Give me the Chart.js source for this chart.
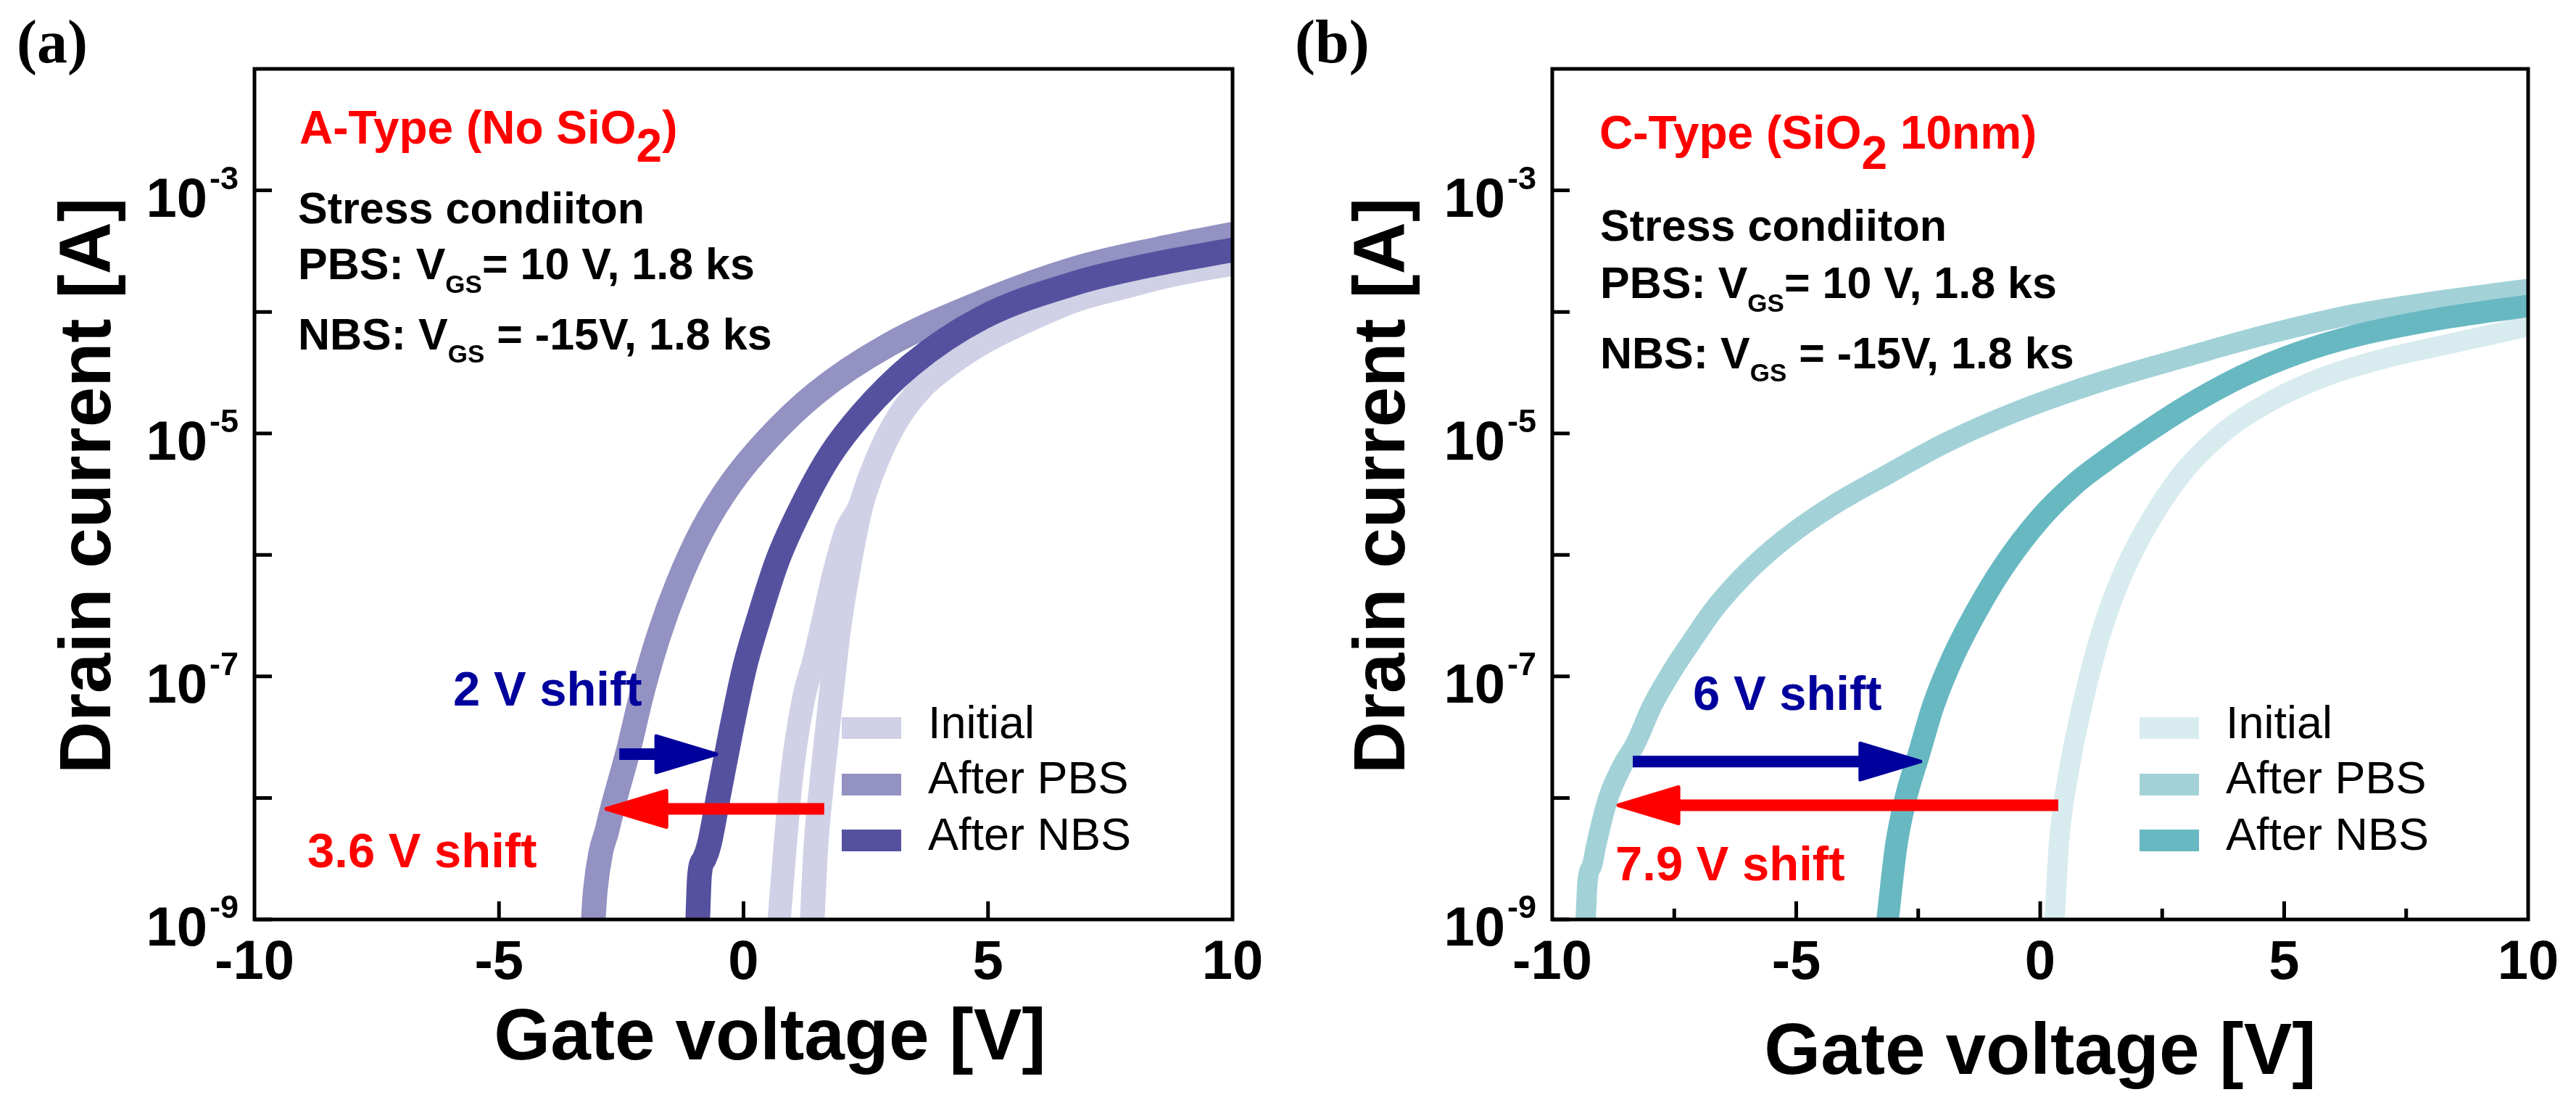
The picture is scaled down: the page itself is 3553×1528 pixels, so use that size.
<!DOCTYPE html>
<html lang="en">
<head>
<meta charset="UTF-8" />
<title>Transfer curves under bias stress</title>
<script src="https://cdn.jsdelivr.net/npm/chart.js"></script>
<style>
  html, body { margin: 0; padding: 0; background: #fff; overflow: hidden; }
  body { width: 3553px; height: 1528px; position: relative; }
  canvas { position: absolute; top: 0; }
  #chartA { left: 0; }
  #chartB { left: 1776px; }
</style>
</head>
<body>
<canvas id="chartA" width="1776" height="1528"></canvas>
<canvas id="chartB" width="1777" height="1528"></canvas>
<script>
// axis ticks
const xTicks = [-10, -5, 0, 5, 10];
const xMinorTicks = [-7.5, -2.5, 2.5, 7.5];
const yTickExp = [-3, -4, -5, -6, -7, -8, -9];
const yLabelExp = [-3, -5, -7, -9];
const legendLabels = ["Initial", "After PBS", "After NBS"];

// gate voltage [V] / log10 of drain current [A]
// (a) A-Type (No SiO2)
const aInitV   = [1.40, 1.48, 1.62, 1.78, 1.95, 2.15, 2.40, 2.75, 3.15, 3.65, 4.25, 4.90, 5.80, 6.80, 7.80, 8.80, 10.0];
const aInitLog = [-9.05, -8.40, -7.80, -7.20, -6.60, -6.10, -5.60, -5.20, -4.88, -4.62, -4.42, -4.25, -4.07, -3.90, -3.79, -3.69, -3.60];
const aInitSweepV   = [0.72, 0.85, 0.99, 1.22, 1.45, 1.65, 1.85, 2.10, 2.35, 2.55];
const aInitSweepLog = [-9.05, -8.40, -7.80, -7.20, -6.85, -6.50, -6.15, -5.80, -5.62, -5.42];
const aPbsV   = [-3.08, -3.03, -2.92, -2.80, -2.69, -2.35, -2.07, -1.73, -1.34, -0.85, -0.27, 0.51, 1.48, 2.93, 4.87, 6.81, 8.50, 10.0];
const aPbsLog = [-9.05, -8.76, -8.45, -8.28, -8.10, -7.60, -7.13, -6.66, -6.23, -5.80, -5.42, -5.04, -4.67, -4.28, -3.92, -3.64, -3.48, -3.36];
const aNbsV   = [-0.94, -0.90, -0.80, -0.70, -0.51, -0.27, 0.02, 0.32, 0.70, 1.18, 1.77, 2.44, 3.42, 4.87, 6.81, 8.50, 10.0];
const aNbsLog = [-9.05, -8.64, -8.50, -8.38, -7.98, -7.48, -6.93, -6.51, -6.04, -5.61, -5.18, -4.83, -4.44, -4.05, -3.76, -3.60, -3.49];

// (b) C-Type (SiO2 10nm)
const bInitV   = [0.29, 0.38, 0.57, 0.86, 1.14, 1.45, 1.85, 2.42, 2.99, 3.85, 4.70, 5.85, 6.99, 8.42, 10.0];
const bInitLog = [-9.05, -8.39, -7.82, -7.24, -6.79, -6.40, -6.02, -5.61, -5.29, -4.96, -4.74, -4.53, -4.39, -4.26, -4.12];
const bPbsV   = [-9.32, -9.28, -9.18, -9.10, -8.86, -8.57, -8.29, -7.95, -7.52, -7.14, -6.67, -6.00, -5.24, -4.28, -3.14, -1.90, -0.48, 1.28, 2.99, 4.70, 6.42, 8.13, 10.0];
const bPbsLog = [-9.05, -8.70, -8.55, -8.39, -8.01, -7.74, -7.55, -7.24, -6.94, -6.71, -6.44, -6.14, -5.87, -5.60, -5.34, -5.07, -4.82, -4.57, -4.37, -4.18, -4.02, -3.91, -3.81];
const bNbsV   = [-3.14, -2.95, -2.76, -2.48, -2.19, -1.81, -1.33, -0.76, 0.00, 0.70, 1.28, 2.14, 2.99, 4.13, 5.27, 6.42, 8.13, 10.0];
const bNbsLog = [-9.05, -8.39, -8.01, -7.63, -7.24, -6.86, -6.48, -6.10, -5.70, -5.42, -5.24, -5.00, -4.78, -4.53, -4.34, -4.20, -4.06, -3.95];

// shift arrows: [fromV, toV, log10 I]
const aArrows = { blue: [-2.54, -0.51, -7.64], red: [1.65, -2.85, -8.09] };
const bArrows = { blue: [-8.35, -2.41, -7.70], red: [0.37, -8.69, -8.06] };

const FONT = "'Liberation Sans', Arial, sans-serif";
const BLUE = "#00009c";
const RED = "#ff0000";

function pts(vs, logs) {
  return vs.map((v, i) => ({ x: v, y: Math.pow(10, logs[i]) }));
}

function curve(data, color, width, order) {
  return {
    data: data,
    borderColor: color,
    backgroundColor: color,
    borderWidth: width,
    pointRadius: 0,
    fill: false,
    cubicInterpolationMode: "monotone",
    borderCapStyle: "round",
    borderJoinStyle: "round",
    clip: 0,
    order: order,
  };
}

function runs(ctx, x, y, parts, color) {
  ctx.fillStyle = color;
  ctx.textAlign = "left";
  ctx.textBaseline = "alphabetic";
  parts.forEach((p) => {
    ctx.font = p.f;
    ctx.fillText(p.t, x, y + (p.dy || 0));
    x += ctx.measureText(p.t).width;
  });
}

function arrow(ctx, x1, x2, y, color) {
  const dir = x2 > x1 ? 1 : -1;
  const headLen = 86, half = 25;
  const base = x2 - dir * headLen;
  ctx.strokeStyle = color;
  ctx.fillStyle = color;
  ctx.lineCap = "butt";
  ctx.lineWidth = 16;
  ctx.beginPath();
  ctx.moveTo(x1, y);
  ctx.lineTo(base + dir * 4, y);
  ctx.stroke();
  ctx.lineJoin = "round";
  ctx.lineWidth = 5;
  ctx.beginPath();
  ctx.moveTo(x2 - dir * 3, y);
  ctx.lineTo(base, y - half);
  ctx.lineTo(base, y + half);
  ctx.closePath();
  ctx.fill();
  ctx.stroke();
}

const overlay = {
  id: "overlay",
  afterDraw(chart, args, o) {
    const ctx = chart.ctx;
    const xs = chart.scales.x, ys = chart.scales.y, ca = chart.chartArea;
    const off = o.offset;
    ctx.save();

    // frame and inward ticks
    ctx.strokeStyle = "#000";
    ctx.lineWidth = 5;
    ctx.lineCap = "butt";
    ctx.strokeRect(ca.left, ca.top, ca.right - ca.left, ca.bottom - ca.top);
    ctx.beginPath();
    yTickExp.forEach((e) => {
      const y = ys.getPixelForValue(Math.pow(10, e));
      ctx.moveTo(ca.left, y);
      ctx.lineTo(ca.left + 24, y);
    });
    xTicks.slice(1, -1).forEach((v) => {
      const x = xs.getPixelForValue(v);
      ctx.moveTo(x, ca.bottom);
      ctx.lineTo(x, ca.bottom - 25);
    });
    if (o.minor) {
      xMinorTicks.forEach((v) => {
        const x = xs.getPixelForValue(v);
        ctx.moveTo(x, ca.bottom);
        ctx.lineTo(x, ca.bottom - 15);
      });
    }
    ctx.stroke();

    // tick labels
    ctx.fillStyle = "#000";
    ctx.textBaseline = "alphabetic";
    yLabelExp.forEach((e) => {
      const y = ys.getPixelForValue(Math.pow(10, e));
      ctx.textAlign = "right";
      ctx.font = "bold 45px " + FONT;
      const sup = String(e);
      const sw = ctx.measureText(sup).width;
      ctx.fillText(sup, ca.left - 22, y - 2);
      ctx.font = "bold 76px " + FONT;
      ctx.fillText("10", ca.left - 25 - sw, y + 36);
    });
    ctx.textAlign = "center";
    ctx.font = "bold 76px " + FONT;
    xTicks.forEach((v) => {
      ctx.fillText(String(v), xs.getPixelForValue(v), 1350);
    });

    // axis titles
    ctx.font = "bold 100px " + FONT;
    ctx.fillText("Gate voltage [V]", o.xTitle[0] - off, o.xTitle[1]);
    ctx.save();
    ctx.translate(o.yTitle[0] - off, o.yTitle[1]);
    ctx.rotate(-Math.PI / 2);
    ctx.fillText("Drain current [A]", 0, 0);
    ctx.restore();

    // panel letter
    ctx.textAlign = "left";
    ctx.font = "bold 84px 'Liberation Serif', 'Times New Roman', serif";
    ctx.fillText(o.letter, o.letterPos[0] - off, 86);

    // header texts
    const big = "bold 64px " + FONT, mid = "bold 61px " + FONT, sub = "bold 35px " + FONT;
    runs(ctx, o.title.x - off, o.title.y, o.title.parts.map((p) => ({ t: p.t, f: big, dy: p.dy })), RED);
    runs(ctx, o.stress.x - off, o.stress.y[0], [{ t: "Stress condiiton", f: mid }], "#000");
    runs(ctx, o.stress.x - off, o.stress.y[1],
      [{ t: "PBS: V", f: mid }, { t: "GS", f: sub, dy: 19 }, { t: "= 10 V, 1.8 ks", f: mid }], "#000");
    runs(ctx, o.stress.x - off, o.stress.y[2],
      [{ t: "NBS: V", f: mid }, { t: "GS", f: sub, dy: 18 }, { t: " = -15V, 1.8 ks", f: mid }], "#000");

    // shift arrows and labels
    const ar = o.arrows;
    arrow(ctx, xs.getPixelForValue(ar.blue[0]), xs.getPixelForValue(ar.blue[1]),
      ys.getPixelForValue(Math.pow(10, ar.blue[2])), BLUE);
    arrow(ctx, xs.getPixelForValue(ar.red[0]), xs.getPixelForValue(ar.red[1]),
      ys.getPixelForValue(Math.pow(10, ar.red[2])), RED);
    const sh = "bold 67px " + FONT;
    runs(ctx, o.blueText.x - off, o.blueText.y, [{ t: o.blueText.t, f: sh }], BLUE);
    runs(ctx, o.redText.x - off, o.redText.y, [{ t: o.redText.t, f: sh }], RED);

    // legend
    const rowsY = [1004, 1082, 1159], textY = [1018, 1094, 1172];
    legendLabels.forEach((lab, i) => {
      ctx.fillStyle = o.colors[i];
      ctx.fillRect(o.legendX - off, rowsY[i] - 15, 82, 30);
      ctx.fillStyle = "#000";
      ctx.font = "63px " + FONT;
      ctx.textAlign = "left";
      ctx.fillText(lab, o.legendX - off + 119, textY[i]);
    });

    ctx.restore();
  },
};

function makeChart(id, datasets, padding, opts) {
  return new Chart(document.getElementById(id), {
    type: "line",
    data: { datasets: datasets },
    options: {
      responsive: false,
      animation: false,
      devicePixelRatio: 1,
      layout: { padding: padding },
      plugins: { legend: { display: false }, tooltip: { enabled: false }, overlay: opts },
      scales: {
        x: { type: "linear", min: -10, max: 10, display: false },
        y: { type: "logarithmic", min: 1e-9, max: 1e-2, display: false },
      },
    },
    plugins: [overlay],
  });
}

const aColors = ["#d0d0e6", "#9492c2", "#56519f"];
const bColors = ["#d8ecef", "#a2d2d8", "#68b8c2"];

makeChart("chartA", [
  curve(pts(aNbsV, aNbsLog), aColors[2], 34, 1),
  curve(pts(aPbsV, aPbsLog), aColors[1], 34, 2),
  curve(pts(aInitV, aInitLog), aColors[0], 34, 3),
  curve(pts(aInitSweepV, aInitSweepLog), aColors[0], 32, 4),
], { left: 351, right: 76, top: 95, bottom: 260 }, {
  offset: 0,
  minor: false,
  letter: "(a)", letterPos: [23],
  xTitle: [1062, 1461],
  yTitle: [152, 670],
  title: { x: 413, y: 198, parts: [{ t: "A-Type (No SiO" }, { t: "2", dy: 25 }, { t: ")" }] },
  stress: { x: 411, y: [308, 385, 482] },
  arrows: aArrows,
  blueText: { t: "2 V shift", x: 625, y: 973 },
  redText: { t: "3.6 V shift", x: 424, y: 1196 },
  legendX: 1161,
  colors: aColors,
});

makeChart("chartB", [
  curve(pts(bNbsV, bNbsLog), bColors[2], 31, 1),
  curve(pts(bPbsV, bPbsLog), bColors[1], 28, 2),
  curve(pts(bInitV, bInitLog), bColors[0], 28, 3),
], { left: 365, right: 66, top: 95, bottom: 260 }, {
  offset: 1776,
  minor: true,
  letter: "(b)", letterPos: [1786],
  xTitle: [2814, 1481],
  yTitle: [1937, 670],
  title: { x: 2206, y: 205, parts: [{ t: "C-Type (SiO" }, { t: "2", dy: 28 }, { t: " 10nm)" }] },
  stress: { x: 2207, y: [332, 411, 508] },
  arrows: bArrows,
  blueText: { t: "6 V shift", x: 2335, y: 979 },
  redText: { t: "7.9 V shift", x: 2228, y: 1214 },
  legendX: 2951,
  colors: bColors,
});
</script>
</body>
</html>
